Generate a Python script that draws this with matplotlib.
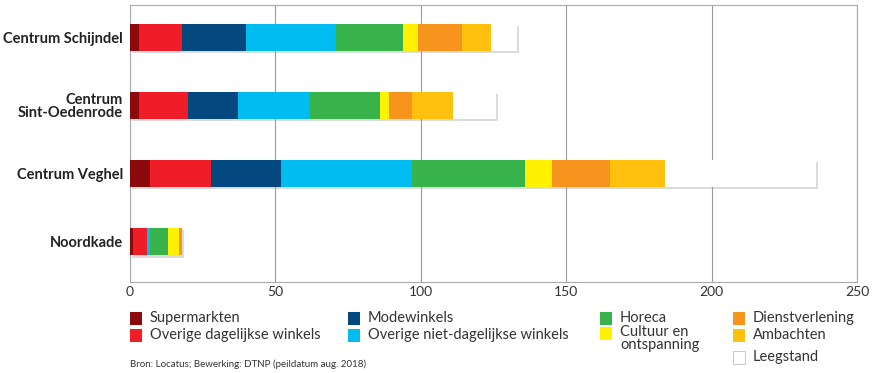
import matplotlib
matplotlib.use('Agg')
import matplotlib.pyplot as plt
import matplotlib.patheffects as pe
from matplotlib.patches import Rectangle
import numpy as np

plt.rcParams['font.family'] = ['Lato', 'DejaVu Sans']

# data
locaties = ['Centrum Schijndel', 'Centrum\nSint-Oedenrode', 'Centrum Veghel', 'Noordkade']
categorieen = ['Supermarkten', 'Overige dagelijkse winkels', 'Modewinkels',
               'Overige niet-dagelijkse winkels', 'Horeca', 'Cultuur en\nontspanning',
               'Dienstverlening', 'Ambachten', 'Leegstand']
supermarkten = [3, 3, 7, 1]
overige_dagelijks = [15, 17, 21, 5]
modewinkels = [22, 17, 24, 0]
overige_niet_dagelijks = [31, 25, 45, 1]
horeca = [23, 24, 39, 6]
cultuur = [5, 3, 9, 4]
dienstverlening = [15, 8, 20, 1]
ambachten = [10, 14, 19, 0]
leegstand = [9, 15, 52, 0]
x_ticks = [0, 50, 100, 150, 200, 250]
bron = 'Bron: Locatus; Bewerking: DTNP (peildatum aug. 2018)'

series = [supermarkten, overige_dagelijks, modewinkels, overige_niet_dagelijks,
          horeca, cultuur, dienstverlening, ambachten, leegstand]
kleuren = ['#8C0A0C', '#EE1D27', '#03497F', '#00BCF1', '#38B24A',
           '#FFF100', '#F7941E', '#FFC10E', '#FFFFFF']

W, H = 873, 373
fig = plt.figure(figsize=(W / 100, H / 100), dpi=100)
ax = fig.add_axes([130 / W, (H - 282) / H, (857 - 130) / W, (282 - 5) / H])

y = np.arange(len(locaties))
left = np.zeros(len(locaties))
shadow = [pe.SimplePatchShadow(offset=(1.5, -1.5), shadow_rgbFace='#999999', alpha=0.35), pe.Normal()]
for vals, kleur, naam in zip(series, kleuren, categorieen):
    bars = ax.barh(y, vals, left=left, height=0.4, color=kleur, edgecolor='none', zorder=3)
    for b in bars:
        b.set_path_effects(shadow)
    left += np.array(vals)

ax.set_xlim(0, 250)
ax.set_ylim(3.59, -0.48)
ax.set_xticks(x_ticks)
ax.set_xticklabels([str(t) for t in x_ticks], fontsize=10, color='#333333')
ax.set_yticks(y)
ax.set_yticklabels(locaties, fontsize=10.5, fontweight='bold', color='#222222',
                   linespacing=0.85)
ax.tick_params(axis='x', length=0, pad=3)
ax.tick_params(axis='y', length=0, pad=5)
for t in ax.get_yticklabels():
    t.set_multialignment('right')
ax.grid(axis='x', color='#999999', linewidth=0.8, zorder=0)
for s in ax.spines.values():
    s.set_color('#aaaaaa')
    s.set_linewidth(0.8)

# legend
legend_pos = [(130, 318), (130, 335), (348, 318), (348, 335), (600, 318),
              (600, 333), (733, 318), (733, 335), (733, 357)]
for (px, py), kleur, naam in zip(legend_pos, kleuren, categorieen):
    fig.patches.append(Rectangle((px / W, (H - py - 7) / H), 12 / W, 13 / H,
                                 transform=fig.transFigure, facecolor=kleur,
                                 edgecolor='#cccccc' if kleur == '#FFFFFF' else 'none',
                                 linewidth=0.8))
    if '\n' in naam:
        fig.text((px + 20) / W, (H - py + 8) / H, naam, fontsize=10.5, color='#333333',
                 va='top', ha='left', linespacing=0.95)
    else:
        fig.text((px + 20) / W, (H - py) / H, naam, fontsize=10.5, color='#333333',
                 va='center', ha='left')

fig.text(130 / W, (H - 364) / H, bron, fontsize=7, color='#333333', va='center')

fig.savefig('out.png', dpi=100)
